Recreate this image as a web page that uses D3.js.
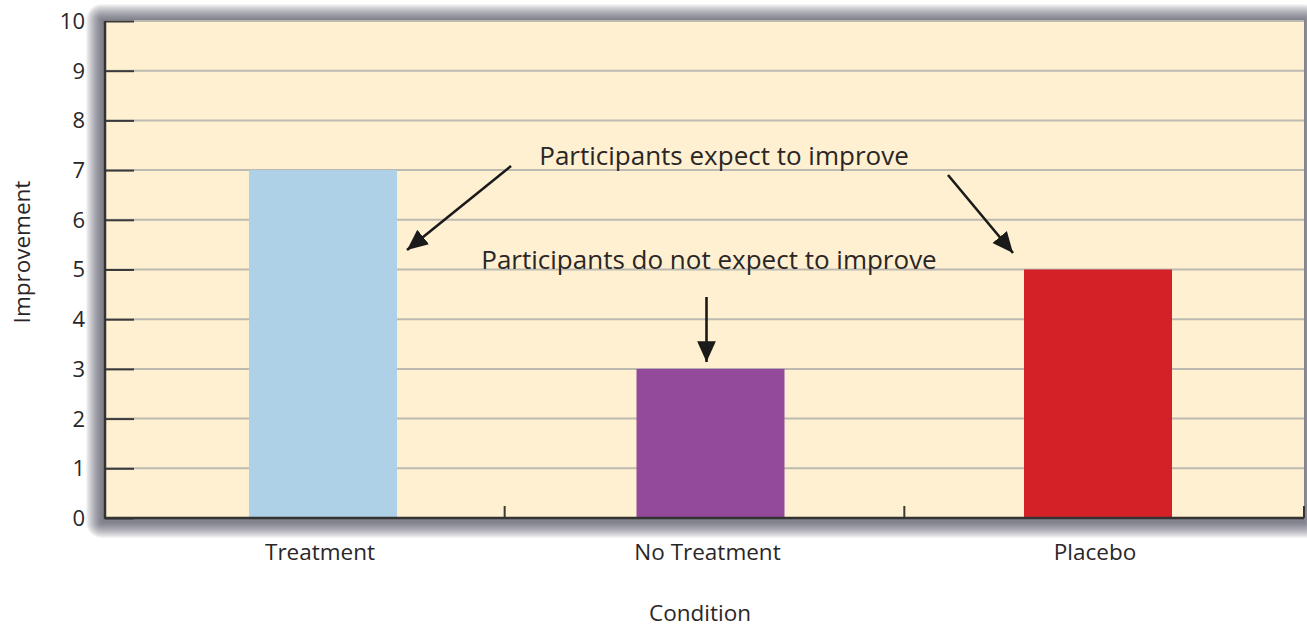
<!DOCTYPE html>
<html><head><meta charset="utf-8">
<script src="https://cdn.jsdelivr.net/npm/d3@7"></script>
<style>body{margin:0;background:#fff}svg{display:block}text{font-family:"Open Sans","Noto Sans",sans-serif;fill:#2a2627}</style>
</head><body><svg id="c" width="1307" height="629"></svg>
<script>
const categories = ["Treatment", "No Treatment", "Placebo"];
const values = [7, 3, 5];
const colors = ["#aed1e8", "#944a9a", "#d42027"];
const yTicks = [0,1,2,3,4,5,6,7,8,9,10];
const xTitle = "Condition";
const yTitle = "Improvement";
const notes = ["Participants expect to improve", "Participants do not expect to improve"];

const svg = d3.select("#c");
const L = 105, R = 1304, T = 21, B = 518;
const y = d3.scaleLinear().domain([0, 10]).range([B, T]);
const band = d3.scaleBand().domain(categories).range([L, R]);
const cx = d3.scalePoint().domain(categories).range([323, 1098]);
const barW = 148;

const defs = svg.append("defs");
const mk = defs.append("marker").attr("id", "ah").attr("viewBox", "0 0 10 10").attr("refX", 10).attr("refY", 5)
  .attr("markerWidth", 8).attr("markerHeight", 8).attr("markerUnits", "strokeWidth").attr("orient", "auto");
mk.append("path").attr("d", "M0,0.5 L10,5 L0,9.5 Z").attr("fill", "#1a1a1a");

// drop shadow built from stacked translucent rects
const rings = d3.range(16, 0, -1);
svg.append("g").selectAll("rect").data(rings).join("rect")
  .attr("x", d => L - 3 - d).attr("y", d => T - 1 - d)
  .attr("width", d => R - L + 3 + 2 * d).attr("height", d => B - T + 5 + 2 * d)
  .attr("rx", d => d).attr("fill", "#3c3c44").attr("fill-opacity", 0.055);
svg.append("rect").attr("x", L).attr("y", T).attr("width", R - L).attr("height", B - T)
  .attr("fill", "#fef0d0");

// gridlines
svg.append("g").selectAll("line").data(yTicks.filter(d => d > 0)).join("line")
  .attr("x1", L).attr("x2", R).attr("y1", d => y(d)).attr("y2", d => y(d))
  .attr("stroke", "#bdbab2").attr("stroke-width", 2);

// bars
svg.append("g").selectAll("rect").data(categories).join("rect")
  .attr("x", d => cx(d) - barW / 2).attr("width", barW)
  .attr("y", (d, i) => y(values[i])).attr("height", (d, i) => y(0) - y(values[i]))
  .attr("fill", (d, i) => colors[i]);

// y axis ticks
const ya = d3.axisRight(y).tickValues(yTicks).tickSize(29).tickFormat("");
const yg = svg.append("g").attr("transform", `translate(${L},0)`).call(ya);
yg.select(".domain").remove();
yg.selectAll(".tick line").attr("stroke", "#3a3a3a").attr("stroke-width", 2);
svg.append("g").selectAll("text").data(yTicks).join("text")
  .attr("x", 85).attr("y", d => y(d)).attr("dy", "0.36em").attr("text-anchor", "end")
  .attr("font-size", 22).text(d => d);

// x separators
const seps = categories.slice(1).map(c => band(c));
svg.append("g").selectAll("line").data(seps).join("line")
  .attr("x1", d => d).attr("x2", d => d).attr("y1", B).attr("y2", B - 12)
  .attr("stroke", "#3a3a3a").attr("stroke-width", 2);

// axis lines
svg.append("line").attr("x1", L).attr("x2", L).attr("y1", T).attr("y2", B + 1).attr("stroke", "#333").attr("stroke-width", 2.5);
svg.append("line").attr("x1", L).attr("x2", R).attr("y1", B).attr("y2", B).attr("stroke", "#333").attr("stroke-width", 2.5);
svg.append("line").attr("x1", R).attr("x2", R).attr("y1", B - 12).attr("y2", B).attr("stroke", "#333").attr("stroke-width", 2);

// x labels
svg.append("g").selectAll("text").data(categories).join("text")
  .attr("x", d => cx(d) - 3).attr("y", 560).attr("text-anchor", "middle").attr("font-size", 22.5).text(d => d);
svg.append("text").attr("x", 700).attr("y", 621).attr("text-anchor", "middle").attr("font-size", 22.5).text(xTitle);
svg.append("text").attr("transform", "translate(30,252) rotate(-90)").attr("text-anchor", "middle").attr("font-size", 22.5).text(yTitle);

// annotations
svg.append("text").attr("x", 724).attr("y", 165).attr("text-anchor", "middle").attr("font-size", 26).text(notes[0]);
svg.append("text").attr("x", 709).attr("y", 269).attr("text-anchor", "middle").attr("font-size", 26).text(notes[1]);

const arrows = [
  [cx(categories[0]) + 188, 166, cx(categories[0]) + 84, 250],
  [cx(categories[2]) - 150, 175, cx(categories[2]) - 85, 253],
  [cx(categories[1]) - 4, 297, cx(categories[1]) - 4, 362]
];
svg.append("g").selectAll("line").data(arrows).join("line")
  .attr("x1", d => d[0]).attr("y1", d => d[1]).attr("x2", d => d[2]).attr("y2", d => d[3])
  .attr("stroke", "#1a1a1a").attr("stroke-width", 2.6).attr("marker-end", "url(#ah)");
</script></body></html>
